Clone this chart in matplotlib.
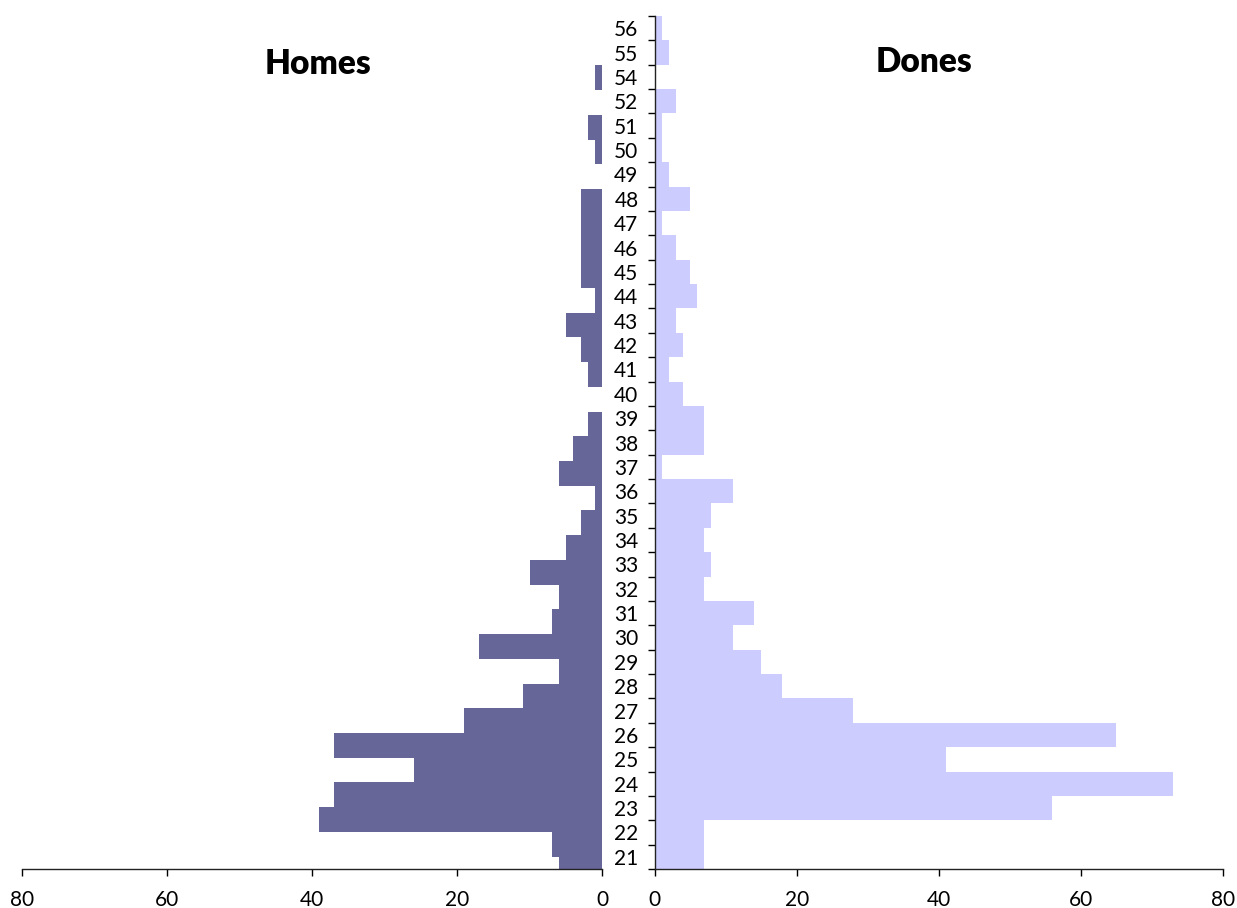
import matplotlib
matplotlib.use("Agg")
import matplotlib.pyplot as plt
from matplotlib.ticker import FixedLocator

plt.rcParams['font.family'] = ['Lato', 'DejaVu Sans']

ages = [21, 22, 23, 24, 25, 26, 27, 28, 29, 30, 31, 32, 33, 34, 35, 36, 37, 38,
        39, 40, 41, 42, 43, 44, 45, 46, 47, 48, 49, 50, 51, 52, 54, 55, 56]
homes = [6, 7, 39, 37, 26, 37, 19, 11, 6, 17, 7, 6, 10, 5, 3, 1, 6, 4,
         2, 0, 2, 3, 5, 1, 3, 3, 3, 3, 0, 1, 2, 0, 1, 0, 0]
dones = [7, 7, 56, 73, 41, 65, 28, 18, 15, 11, 14, 7, 8, 7, 8, 11, 1, 7,
         7, 4, 2, 4, 3, 6, 5, 3, 1, 5, 2, 1, 1, 3, 0, 2, 1]
x_ticks = [0, 20, 40, 60, 80]
title_left = "Homes"
title_right = "Dones"

W, H = 1237, 908
fig = plt.figure(figsize=(W / 100, H / 100), dpi=100)

bottom = (H - 869) / H
top = (H - 16) / H
axL = fig.add_axes([22 / W, bottom, (602.3 - 22) / W, top - bottom])
axR = fig.add_axes([654.5 / W, bottom, (1223 - 654.5) / W, top - bottom])

pos = list(range(len(ages)))

axL.barh(pos, homes, height=1.0, color='#666699', edgecolor='none')
axR.barh(pos, dones, height=1.0, color='#CCCCFF', edgecolor='none')

axL.set_xlim(80, 0)
axR.set_xlim(0, 80)
axL.set_ylim(0, len(ages) - 0.5)
axR.set_ylim(-0.5, len(ages) - 0.5)

for ax in (axL, axR):
    ax.set_xticks(x_ticks)
    ax.tick_params(axis='x', length=5, width=1, direction='out', pad=10,
                   labelsize=15, colors='black')
    ax.spines['top'].set_visible(False)
    ax.spines['right'].set_visible(False)
    ax.spines['bottom'].set_linewidth(1)
    ax.spines['bottom'].set_color('#222222')

axL.spines['left'].set_visible(False)
axL.set_yticks([])

axR.spines['left'].set_linewidth(1)
axR.spines['left'].set_color('#222222')
axR.set_yticks(pos)
axR.set_yticklabels([str(a) for a in ages])
axR.yaxis.set_minor_locator(FixedLocator([p - 0.5 for p in pos] + [len(ages) - 0.5]))
axR.tick_params(axis='y', which='major', length=0, pad=11.5, labelsize=15)
axR.tick_params(axis='y', which='minor', length=5, width=1, direction='out')

fig.text(318 / W, 1 - 64 / H, title_left, ha='center', va='center',
         fontsize=24, fontweight='heavy')
fig.text(924 / W, 1 - 62 / H, title_right, ha='center', va='center',
         fontsize=24, fontweight='heavy')

fig.savefig("out.png", dpi=100)
